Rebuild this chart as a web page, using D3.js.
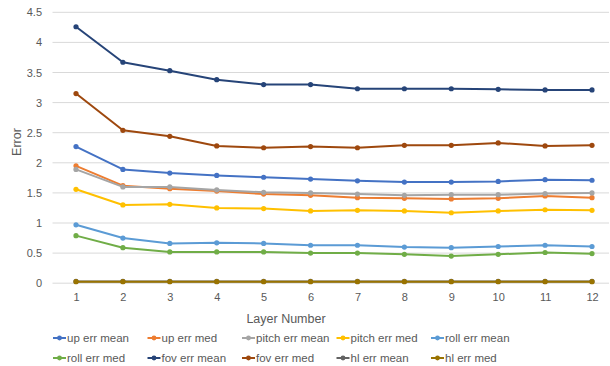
<!DOCTYPE html>
<html><head><meta charset="utf-8">
<script src="https://cdn.jsdelivr.net/npm/d3@7"></script>
<style>body{margin:0;background:#fff}svg{display:block}text{font-family:"Liberation Sans",Arial,sans-serif;fill:#595959}</style>
</head><body><svg id="c" width="610" height="366"></svg>
<script>
const layers = [1,2,3,4,5,6,7,8,9,10,11,12];
const yTicks = [0,0.5,1,1.5,2,2.5,3,3.5,4,4.5];
const seriesNames = ["up err mean","up err med","pitch err mean","pitch err med","roll err mean","roll err med","fov err mean","fov err med","hl err mean","hl err med"];
const seriesColors = ["#4472C4","#ED7D31","#A5A5A5","#FFC000","#5B9BD5","#70AD47","#264478","#9E480E","#636363","#997300"];
const upErrMean    = [2.27,1.89,1.83,1.79,1.76,1.73,1.70,1.68,1.68,1.69,1.72,1.71];
const upErrMed     = [1.95,1.62,1.57,1.53,1.48,1.46,1.42,1.41,1.40,1.41,1.45,1.42];
const pitchErrMean = [1.89,1.60,1.60,1.55,1.51,1.50,1.48,1.46,1.47,1.47,1.49,1.50];
const pitchErrMed  = [1.56,1.30,1.31,1.25,1.24,1.20,1.21,1.20,1.17,1.20,1.22,1.21];
const rollErrMean  = [0.97,0.75,0.66,0.67,0.66,0.63,0.63,0.60,0.59,0.61,0.63,0.61];
const rollErrMed   = [0.79,0.59,0.52,0.52,0.52,0.50,0.50,0.48,0.45,0.48,0.51,0.49];
const fovErrMean   = [4.26,3.67,3.53,3.38,3.30,3.30,3.23,3.23,3.23,3.22,3.21,3.21];
const fovErrMed    = [3.15,2.54,2.44,2.28,2.25,2.27,2.25,2.29,2.29,2.33,2.28,2.29];
const hlErrMean    = [0.03,0.03,0.03,0.03,0.03,0.03,0.03,0.03,0.03,0.03,0.03,0.03];
const hlErrMed     = [0.025,0.025,0.025,0.025,0.025,0.025,0.025,0.025,0.025,0.025,0.025,0.025];
const seriesValues = [upErrMean,upErrMed,pitchErrMean,pitchErrMed,rollErrMean,rollErrMed,fovErrMean,fovErrMed,hlErrMean,hlErrMed];

const svg = d3.select("#c");
const x = d3.scalePoint().domain(layers).range([76, 592]);
const y = d3.scaleLinear().domain([0, 4.5]).range([283.2, 12.3]);
const gridX0 = 52.5, gridX1 = 609;

// gridlines
svg.append("g").selectAll("line").data(yTicks).join("line")
  .attr("x1", gridX0).attr("x2", gridX1)
  .attr("y1", d => y(d)).attr("y2", d => y(d))
  .attr("stroke", "#D9D9D9").attr("stroke-width", 1);

// y axis labels
const yAxis = d3.axisLeft(y).tickValues(yTicks).tickSize(0).tickPadding(0).tickFormat(d3.format("~g"));
const gy = svg.append("g").attr("transform", "translate(42,0)").call(yAxis);
gy.select(".domain").remove();
gy.selectAll("text").attr("font-size", 11).attr("fill", "#595959").style("font-family", "Liberation Sans, Arial, sans-serif");

// x axis labels
const xAxis = d3.axisBottom(x).tickSize(0).tickPadding(0);
const gx = svg.append("g").attr("transform", "translate(0,293)").call(xAxis);
gx.select(".domain").remove();
gx.selectAll("text").attr("font-size", 11).attr("fill", "#595959").style("font-family", "Liberation Sans, Arial, sans-serif");

// titles
svg.append("text").attr("x", 286).attr("y", 323).attr("text-anchor", "middle").attr("font-size", 12.5).text("Layer Number");
svg.append("text").attr("transform", "translate(21,142) rotate(-90)").attr("text-anchor", "middle").attr("font-size", 12.5).text("Error");

// series
const line = d3.line().x((d, i) => x(layers[i])).y(d => y(d));
seriesValues.forEach((vals, si) => {
  const g = svg.append("g");
  g.append("path").datum(vals).attr("d", line).attr("fill", "none")
    .attr("stroke", seriesColors[si]).attr("stroke-width", 2).attr("stroke-linejoin", "round");
  g.selectAll("circle").data(vals).join("circle")
    .attr("cx", (d, i) => x(layers[i])).attr("cy", d => y(d)).attr("r", 2.6)
    .attr("fill", seriesColors[si]);
});

// legend
const legend = svg.append("g");
seriesNames.forEach((name, i) => {
  const col = i % 5, row = Math.floor(i / 5);
  const lx = 53 + col * 94.5, ly = 338 + row * 20;
  const g = legend.append("g").attr("transform", `translate(${lx},${ly})`);
  g.append("line").attr("x1", 0).attr("x2", 13).attr("y1", 0).attr("y2", 0).attr("stroke", seriesColors[i]).attr("stroke-width", 2);
  g.append("circle").attr("cx", 6.5).attr("cy", 0).attr("r", 2.4).attr("fill", seriesColors[i]);
  g.append("text").attr("x", 14).attr("y", 4).attr("font-size", 11.5).text(name);
});
</script></body></html>
